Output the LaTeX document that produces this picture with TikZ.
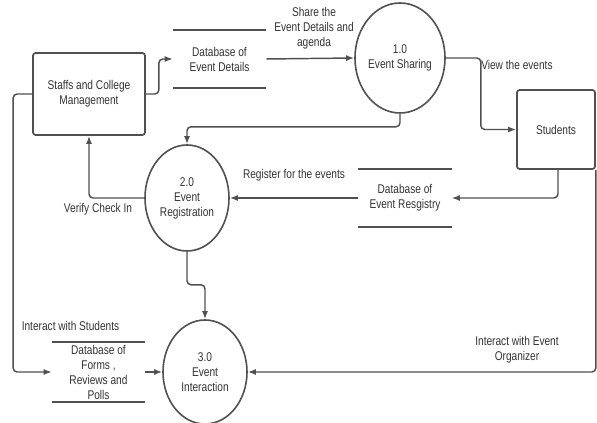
\documentclass[tikz,border=0pt]{standalone}
\usepackage{fontspec}
\setmainfont[FakeStretch=0.8]{Liberation Sans}
\usetikzlibrary{shapes.geometric,arrows.meta}
\definecolor{ln}{HTML}{505050}
\definecolor{tx}{HTML}{333333}
\begin{document}
\begin{tikzpicture}[x=0.75pt,y=-0.75pt,
  every node/.style={font=\fontsize{9.5}{11.25}\selectfont, text=tx, align=center, inner sep=0pt},
  entity/.style={draw=ln, line width=1.3pt, rounded corners=2pt, minimum width=84pt, minimum height=61.5pt},
  proc/.style={draw=ln, line width=1.2pt, ellipse},
  store/.style={minimum width=69.75pt, minimum height=43.5pt},
  storeline/.style={draw=ln, line width=1.2pt},
  flow/.style={draw=ln, line width=1.1pt, rounded corners=3pt, -{Latex[length=6pt,width=4.5pt]}},
  lbl/.style={}]
\useasboundingbox (0,0) rectangle (597,423);
% entities
\node[entity] (staff) at (89,94) {Staffs and College\\Management};
\node[entity, minimum width=58.5pt, minimum height=59.25pt] (stud) at (556,129.5) {Students};
% processes
\node[proc, minimum width=64.5pt, minimum height=82.5pt] (c1) at (400,58) {1.0\\Event Sharing};
\node[proc, minimum width=63pt, minimum height=79.5pt] (c2) at (187,198) {2.0\\Event\\Registration};
\node[proc, minimum width=63pt, minimum height=78pt] (c3) at (205,372) {3.0\\Event\\Interaction};
% data stores
\node[store] (db1) at (219.5,59) {Database of\\Event Details};
\node[store] (db2) at (405,198) {Database of\\Event Resgistry};
\node[store, minimum height=44.25pt] (db3) at (98.5,372) {Database of\\Forms ,\\Reviews and\\Polls};
\foreach \d in {db1,db2,db3}{
  \draw[storeline] (\d.north west) -- (\d.north east);
  \draw[storeline] (\d.south west) -- (\d.south east);
}
% flows
\draw[flow] (staff.east) -- ++(13,0) |- (db1.west);
\draw[flow] (db1.east) -- (c1.west);
\draw[flow] (c1.east) -- ++(35,0) |- (stud.west);
\draw[flow] (c1.south) -- ++(0,13) -| (c2.north);
\draw[flow] (c2.west) -| (staff.south);
\draw[flow] ([xshift=1.5pt]stud.south) |- (db2.east);
\draw[flow] (db2.west) -- (c2.east);
\draw[flow] (c2.south) -- ++(0,33) -| (c3.north);
\draw[flow] (staff.west) -- ++(-19,0) |- (db3.west);
\draw[flow] (db3.east) -- (c3.west);
\draw[flow] (stud.south east) |- (c3.east);
% labels
\node[lbl] (l1) at (314,28) {Share the\\Event Details and\\agenda};
\node[lbl, anchor=west] (l2) at (481,65) {View the events};
\node[lbl] (l3) at (98,209) {Verify Check In};
\node[lbl] (l4) at (294,175) {Register for the events};
\node[lbl] (l5) at (70.5,326) {Interact with Students};
\node[lbl] (l6) at (517,350) {Interact with Event\\Organizer};
\end{tikzpicture}
\end{document}
